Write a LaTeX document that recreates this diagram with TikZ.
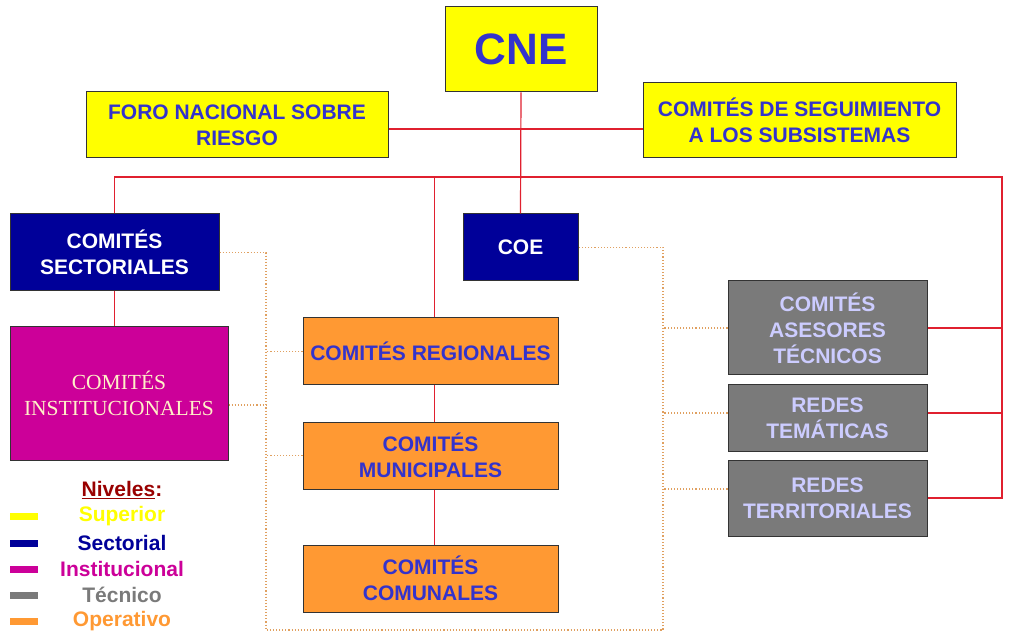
\documentclass[tikz,border=0pt]{standalone}
\usepackage{fontspec}
\setmainfont{Liberation Sans}
\newfontfamily\serifont{Liberation Serif}
\definecolor{cneyellow}{HTML}{FFFF00}
\definecolor{secblue}{HTML}{000099}
\definecolor{instmag}{HTML}{CC0099}
\definecolor{tecgray}{HTML}{7A7A7A}
\definecolor{opeorange}{HTML}{FF9933}
\definecolor{txtblue}{HTML}{3333CC}
\definecolor{txtlav}{HTML}{CCCCFF}
\definecolor{txtcream}{HTML}{FFF0C8}
\definecolor{linkred}{HTML}{E0202F}
\definecolor{dotorange}{HTML}{E0A060}
\definecolor{legred}{HTML}{990000}

\begin{document}
\begin{tikzpicture}[x=1pt,y=-1pt,
  box/.style={draw=black!80, line width=1pt, align=center, inner sep=0pt,
    font=\fontsize{21}{26}\selectfont\bfseries},
  supbox/.style={box, fill=cneyellow, text=txtblue},
  secbox/.style={box, fill=secblue, text=white},
  opebox/.style={box, fill=opeorange, text=txtblue, minimum width=255pt, minimum height=67pt},
  tecbox/.style={box, fill=tecgray, text=txtlav, minimum width=199pt},
  link/.style={draw=linkred, line width=1.2pt},
  dotlink/.style={draw=dotorange, dotted, line width=1.1pt},
  legfont/.style={font=\fontsize{21}{24}\selectfont\bfseries}]
\fill[white] (0,0) rectangle (1010,636);
\useasboundingbox (0,0) rectangle (1010,636);

\node[supbox, minimum width=152pt, minimum height=85pt,
  font=\fontsize{44}{48}\selectfont\bfseries] (cne) at (521,49.5) {CNE};
\node[supbox, minimum width=302pt, minimum height=66pt] (foro) at (237,125)
  {FORO NACIONAL SOBRE\\RIESGO};
\node[supbox, minimum width=313pt, minimum height=75pt] (seg) at (799.5,120.5)
  {COMITÉS DE SEGUIMIENTO\\A LOS SUBSISTEMAS};
\node[secbox, minimum width=209pt, minimum height=77pt] (sect) at (114.5,252.5)
  {COMITÉS\\SECTORIALES};
\node[box, fill=instmag, text=txtcream, minimum width=218pt, minimum height=133pt,
  font=\fontsize{21.5}{26}\selectfont\serifont] (inst) at (119,393.5)
  {COMITÉS\\INSTITUCIONALES};
\node[secbox, minimum width=115pt, minimum height=67pt] (coe) at (520.5,247.5) {COE};
\node[opebox] (reg) at (430.5,351.5) {COMITÉS REGIONALES};
\node[opebox] (mun) at (430.5,455.5) {COMITÉS\\MUNICIPALES};
\node[opebox] (com) at (430.5,578.5) {COMITÉS\\COMUNALES};
\node[tecbox, minimum height=94pt] (ase) at (827.5,328) {COMITÉS\\ASESORES\\TÉCNICOS};
\node[tecbox, minimum height=66pt] (tem) at (827.5,418) {REDES\\TEMÁTICAS};
\node[tecbox, minimum height=76pt] (ter) at (827.5,498) {REDES\\TERRITORIALES};

\coordinate (hub) at (521,129);
\coordinate (rbus) at (1002,177);
\coordinate (dl) at (266,630);
\coordinate (dr) at (663,630);

\draw[link] (foro.east |- hub) -- (seg.west |- hub);
\draw[link] (cne.south) -- (coe.north);
\draw[link] (sect.north) |- (rbus) |- (ter.east);
\draw[link] ([xshift=4pt]reg.north) -- ([xshift=4pt]reg.north |- rbus);
\draw[link] (ase.east) -- (ase.east -| rbus);
\draw[link] (tem.east |- 0,413) -- (rbus |- 0,413);
\draw[link] (sect.south) -- (sect.south |- inst.north);
\draw[link] ([xshift=4pt]reg.south) -- ([xshift=4pt]mun.north);
\draw[link] ([xshift=4pt]mun.south) -- ([xshift=4pt]com.north);

\draw[dotlink] (sect.east) -| (dl) -- (dr) |- (coe.east);
\draw[dotlink] (inst.east |- 0,405) -- (dl |- 0,405);
\draw[dotlink] (reg.west) -- (reg.west -| dl);
\draw[dotlink] (mun.west) -- (mun.west -| dl);
\draw[dotlink] (ase.west) -- (ase.west -| dr);
\draw[dotlink] (tem.west |- 0,413) -- (dr |- 0,413);
\draw[dotlink] (ter.west |- 0,489) -- (dr |- 0,489);

\node[legfont, text=legred] (niv) at (122,490) {\underline{Niveles}:};
\foreach \col/\txt/\yy [count=\i] in {cneyellow/Superior/516, secblue/Sectorial/543,
    instmag/Institucional/569, tecgray/Técnico/595, opeorange/Operativo/621}
{
  \node[fill=\col, minimum width=28pt, minimum height=7pt, inner sep=0pt] (sw\i) at (24,\yy) {};
  \node[legfont, text=\col] (lv\i) at (122,\yy) {\txt};
}
\end{tikzpicture}
\end{document}
